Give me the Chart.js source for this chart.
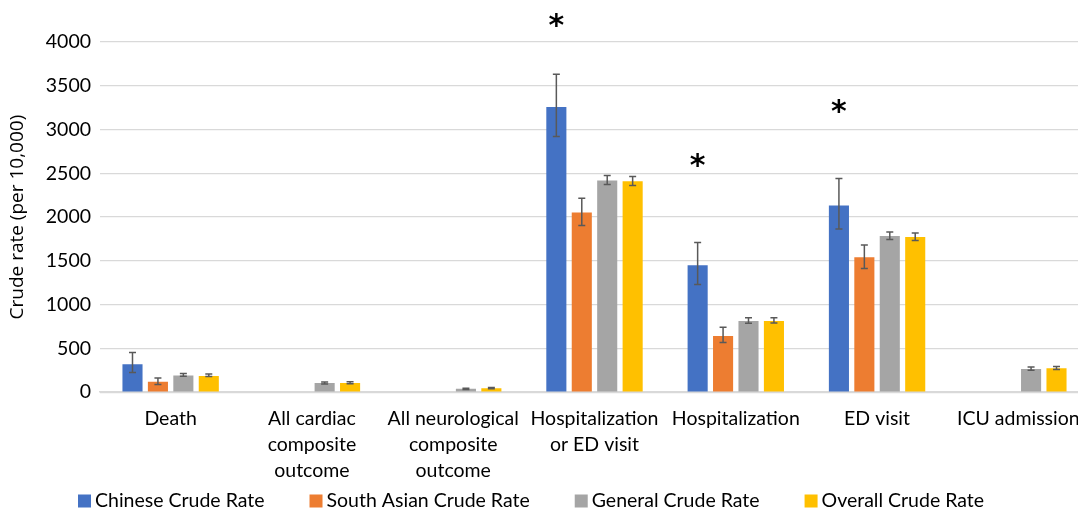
<!DOCTYPE html>
<html>
<head>
<meta charset="utf-8">
<script src="https://cdn.jsdelivr.net/npm/chart.js@4"></script>
<style>
html,body{margin:0;padding:0;overflow:hidden;background:#fff;width:1078px;height:510px;}
#wrap{width:1092px;height:510px;}
</style>
</head>
<body>
<div id="wrap"><canvas id="c" width="1092" height="510"></canvas></div>
<script>
const categories = [
  ['Death'],
  ['All cardiac', 'composite', 'outcome'],
  ['All neurological', 'composite', 'outcome'],
  ['Hospitalization', 'or ED visit'],
  ['Hospitalization'],
  ['ED visit'],
  ['ICU admission']
];
const seriesNames = ['Chinese Crude Rate', 'South Asian Crude Rate', 'General Crude Rate', 'Overall Crude Rate'];
const chinese      = [320, null, null, 3258, 1450, 2132, null];
const chineseLow   = [225, null, null, 2920, 1230, 1865, null];
const chineseHigh  = [453, null, null, 3631, 1709, 2440, null];
const southAsian     = [118, null, null, 2052, 643, 1542, null];
const southAsianLow  = [88,  null, null, 1904, 567, 1412, null];
const southAsianHigh = [163, null, null, 2215, 742, 1682, null];
const general     = [191, 104, 38, 2418, 814, 1785, 266];
const generalLow  = [183, 95,  32, 2372, 788, 1744, 251];
const generalHigh = [214, 116, 46, 2475, 849, 1831, 289];
const overall     = [186, 106, 46, 2410, 814, 1774, 274];
const overallLow  = [179, 97,  40, 2360, 791, 1732, 259];
const overallHigh = [209, 118, 53, 2463, 849, 1819, 293];
const asteriskLevel = [null, null, null, 4240, 2649, 3266, null];
const yTicks = [0, 500, 1000, 1500, 2000, 2500, 3000, 3500, 4000];

const colors = ['#4472C4', '#ED7D31', '#A5A5A5', '#FFC000'];
const values = [chinese, southAsian, general, overall];
const lows = [chineseLow, southAsianLow, generalLow, overallLow];
const highs = [chineseHigh, southAsianHigh, generalHigh, overallHigh];
const FONT = 'Lato';
const FS = 19.5;

const errorBars = {
  id: 'errorBars',
  afterDatasetsDraw(chart) {
    const ctx = chart.ctx;
    const y = chart.scales.y;
    ctx.save();
    ctx.strokeStyle = '#595959';
    ctx.lineWidth = 1.5;
    chart.data.datasets.forEach((ds, di) => {
      const meta = chart.getDatasetMeta(di);
      meta.data.forEach((bar, i) => {
        const lo = lows[di][i], hi = highs[di][i];
        if (lo == null || hi == null) return;
        const x = bar.x;
        const y1 = y.getPixelForValue(lo), y2 = y.getPixelForValue(hi);
        ctx.beginPath();
        ctx.moveTo(x, y1); ctx.lineTo(x, y2);
        ctx.moveTo(x - 3.5, y1); ctx.lineTo(x + 3.5, y1);
        ctx.moveTo(x - 3.5, y2); ctx.lineTo(x + 3.5, y2);
        ctx.stroke();
      });
    });
    // asterisks above Chinese bars
    const meta0 = chart.getDatasetMeta(0);
    ctx.fillStyle = '#000';
    ctx.font = 'bold 30px "DejaVu Sans"';
    ctx.textAlign = 'center';
    ctx.textBaseline = 'alphabetic';
    const m = ctx.measureText('*');
    const off = (m.actualBoundingBoxAscent - m.actualBoundingBoxDescent) / 2;
    asteriskLevel.forEach((v, i) => {
      if (v == null) return;
      const x = meta0.data[i].x;
      const py = y.getPixelForValue(v);
      ctx.fillText('*', x, py + off);
    });
    ctx.restore();
  }
};

const customLegend = {
  id: 'customLegend',
  afterDraw(chart) {
    const ctx = chart.ctx;
    ctx.save();
    ctx.font = FS + 'px ' + FONT;
    ctx.textBaseline = 'middle';
    ctx.textAlign = 'left';
    let x = 78;
    const cy = 501;
    chart.data.datasets.forEach((ds) => {
      ctx.fillStyle = ds.backgroundColor;
      ctx.fillRect(x, cy - 6.5, 13, 13);
      ctx.fillStyle = '#000';
      ctx.fillText(ds.label, x + 17, cy);
      x += 17 + ctx.measureText(ds.label).width + 45;
    });
    ctx.restore();
  }
};

new Chart(document.getElementById('c'), {
  type: 'bar',
  data: {
    labels: categories,
    datasets: seriesNames.map((n, i) => ({
      label: n,
      data: values[i],
      backgroundColor: colors[i],
      borderWidth: 0,
      categoryPercentage: 0.72,
      barPercentage: 0.79
    }))
  },
  options: {
    responsive: false,
    animation: false,
    devicePixelRatio: 1,
    layout: { padding: { top: 42, right: 3, left: 0, bottom: 20 } },
    plugins: {
      tooltip: { enabled: false },
      legend: { display: false }
    },
    scales: {
      x: {
        grid: { display: false },
        border: { color: '#d9d9d9', width: 1.5 },
        ticks: {
          color: '#000',
          font: { family: FONT, size: FS, lineHeight: 1.33 },
          maxRotation: 0,
          autoSkip: false,
          padding: 6
        }
      },
      y: {
        min: 0, max: 4000,
        afterBuildTicks(s) { s.ticks = yTicks.map(v => ({ value: v })); },
        afterFit(s) { s.width = 100; },
        grid: { color: '#d9d9d9', lineWidth: 1.2, drawTicks: false },
        border: { display: false },
        ticks: {
          color: '#000',
          font: { family: FONT, size: FS },
          padding: 9,
          callback: (v) => String(v)
        },
        title: {
          display: true,
          text: 'Crude rate (per 10,000)',
          color: '#000',
          font: { family: 'Open Sans', size: 19 },
          padding: { top: 6, bottom: 0 }
        }
      }
    }
  },
  plugins: [errorBars, customLegend]
});
</script>
</body>
</html>
